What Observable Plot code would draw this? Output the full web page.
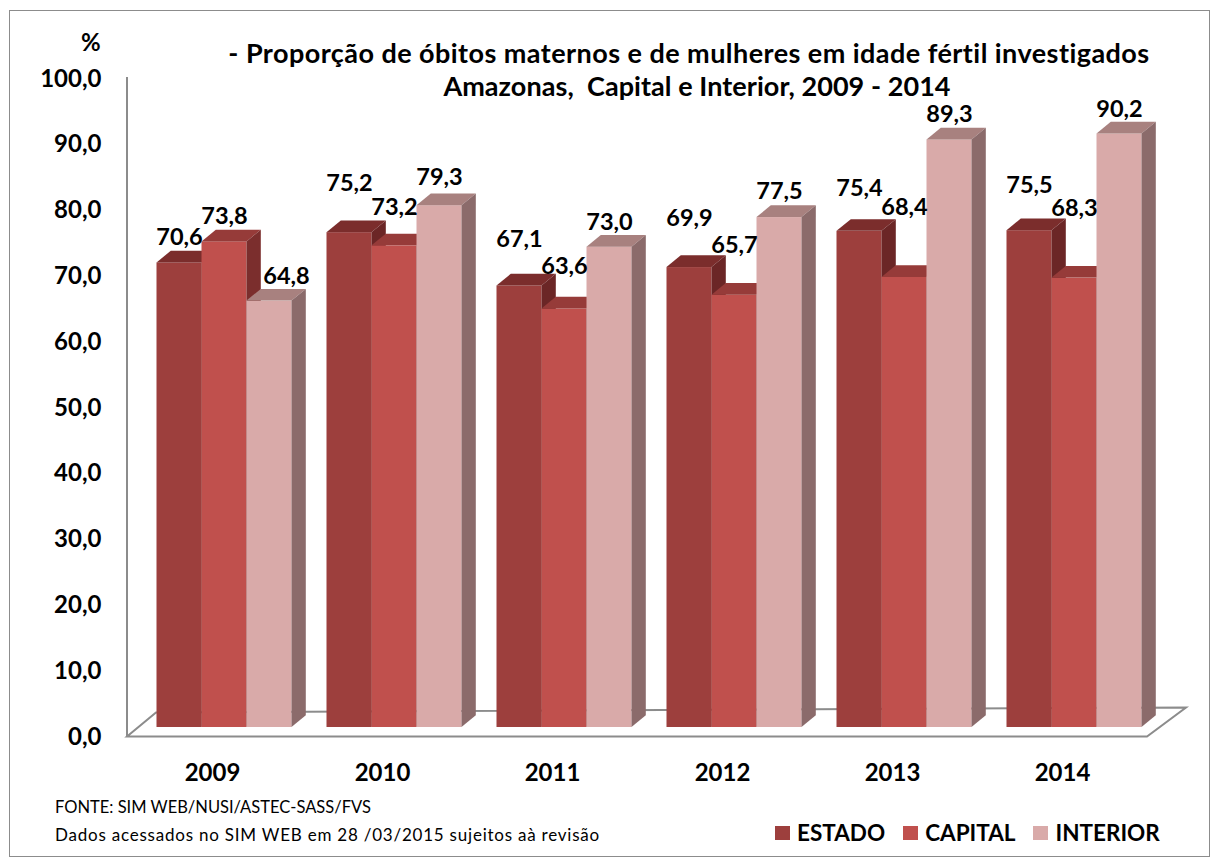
<!DOCTYPE html>
<html>
<head>
<meta charset="utf-8">
<script src="https://cdn.jsdelivr.net/npm/d3@7"></script>
<script src="https://cdn.jsdelivr.net/npm/@observablehq/plot@0.6"></script>
<style>
  html, body { margin: 0; padding: 0; background: #fff; overflow: hidden; }
  #wrap { position: relative; width: 1218px; height: 865px; overflow: hidden; font-family: Lato, sans-serif; }
  #wrap svg { position: absolute; left: 0; top: 0; }
  #frame { position: absolute; left: 9px; top: 10px; width: 1201px; height: 847px; border: 1.5px solid #8c8c8c; box-sizing: border-box; pointer-events: none; }
  .t { position: absolute; white-space: pre; color: #000; line-height: 1; }
  .title { font-weight: bold; font-size: 27px; transform: translateX(-50%); }
  #legend { position: absolute; left: 775px; top: 822px; display: flex; align-items: center; font-weight: bold; font-size: 22.5px; line-height: 1; }
  #legend .item { display: flex; align-items: center; margin-right: 18px; }
  #legend .sw { width: 15px; height: 14px; margin-right: 7px; }
</style>
</head>
<body>
<div id="wrap">
  <div class="t title" id="t1" style="left:689px; top:39px;"></div>
  <div class="t title" id="t2" style="left:697px; top:72px;"></div>
  <div class="t" id="pct" style="left:81px; top:30px; font-weight:bold; font-size:24px;">%</div>
  <div class="t" id="f1" style="left:55px; top:799px; font-size:16.5px;"></div>
  <div class="t" id="f2" style="left:55px; top:826px; font-size:17px;"></div>
  <div id="legend"></div>
  <div id="frame"></div>
</div>
<script>
// ---- data ----
const years = ["2009", "2010", "2011", "2012", "2013", "2014"];
const series = ["ESTADO", "CAPITAL", "INTERIOR"];
const estado   = [70.6, 75.2, 67.1, 69.9, 75.4, 75.5];
const capital  = [73.8, 73.2, 63.6, 65.7, 68.4, 68.3];
const interior = [64.8, 79.3, 73.0, 77.5, 89.3, 90.2];
const yTicks = [0, 10, 20, 30, 40, 50, 60, 70, 80, 90, 100];

const titleLine1 = "- Proporção de óbitos maternos e de mulheres em idade fértil investigados";
const titleLine2 = "Amazonas,  Capital e Interior, 2009 - 2014";
const source1 = "FONTE: SIM WEB/NUSI/ASTEC-SASS/FVS";
const source2 = "Dados acessados no SIM WEB em 28 /03/2015 sujeitos aà revisão";

// ---- styles ----
const frontColors = ["#9D3F3D", "#C0504D", "#D9AAA9"];
const topColors   = ["#7B2D2C", "#963B39", "#A8817F"];
const sideColors  = ["#6B2626", "#7B2E2D", "#8B6B6B"];
// manual label nudges of the original (px, upward / rightward)
const labelLift   = [[0, 0, 0], [24, 13, 3], [22, 18, 0], [24, 25, 1], [18, 45, 0], [20, 45, 0]];
const labelShiftX = [[0, 0, 17], [0, 0, 0], [0, 0, 0], [0, 0, 0], [0, 0, 0], [0, 0, 0]];
const DX = 14.3, DY = 11.7; // oblique depth of the 3D bars

const valuesBySeries = [estado, capital, interior];
const rows = years.flatMap((year, i) =>
  series.map((s, j) => ({year, series: s, value: valuesBySeries[j][i], yi: i, sj: j}))
);

const fmt = v => v.toFixed(1).replace(".", ",");

const plot = Plot.plot({
  width: 1218,
  height: 865,
  marginTop: 69,
  marginBottom: 138,
  marginLeft: 153.5,
  marginRight: 74,
  style: {fontFamily: "Lato, sans-serif", fontSize: "24px", fontWeight: "bold", color: "#000", background: "transparent"},
  fx: {domain: years, paddingInner: 0.2, paddingOuter: 0, label: null},
  x: {domain: series, padding: 0, axis: null},
  y: {domain: [0, 100], label: null},
  color: {domain: series, range: frontColors},
  marks: [
    Plot.axisY({ticks: yTicks, tickFormat: fmt, tickSize: 0, tickPadding: 55, dy: 9.5, label: null, fontSize: 24, fontWeight: "bold"}),
    Plot.axisFx({anchor: "bottom", tickSize: 0, tickPadding: 36, dx: -12, label: null, fontSize: 24, fontWeight: "bold"}),
    Plot.barY(rows, {fx: "year", x: "series", y: "value", fill: "series"}),
    Plot.text(rows, {fx: "year", x: "series", y: "value", text: d => fmt(d.value), dy: -25, fontSize: 23.5, fontWeight: "bold", fill: "#000"})
  ]
});

document.getElementById("wrap").prepend(plot);

// ---- 3D faces on the bars ----
const ns = "http://www.w3.org/2000/svg";
plot.querySelectorAll('g[aria-label="bar"] rect').forEach(r => {
  const fill = (r.getAttribute("fill") || "").toUpperCase();
  const j = frontColors.findIndex(c => c.toUpperCase() === fill);
  if (j < 0) return;
  const x = +r.getAttribute("x"), y = +r.getAttribute("y");
  const w = +r.getAttribute("width"), h = +r.getAttribute("height");
  const top = document.createElementNS(ns, "path");
  top.setAttribute("d", `M${x},${y}L${x + w},${y}L${x + w + DX},${y - DY}L${x + DX},${y - DY}Z`);
  top.setAttribute("fill", topColors[j]);
  const side = document.createElementNS(ns, "path");
  side.setAttribute("d", `M${x + w},${y}L${x + w + DX},${y - DY}L${x + w + DX},${y + h - DY}L${x + w},${y + h}Z`);
  side.setAttribute("fill", sideColors[j]);
  r.after(top, side);
});

// ---- label nudges ----
plot.querySelectorAll('g[aria-label="text"] text').forEach((t, k) => {
  const d = rows[k];
  if (!d) return;
  const lx = labelShiftX[d.yi][d.sj], ly = labelLift[d.yi][d.sj];
  const prev = t.getAttribute("transform") || "";
  t.setAttribute("transform", `translate(${lx},${-ly}) ${prev}`);
});

// ---- floor and vertical axis line (drawn behind the bars) ----
const ys = plot.scale("y"), fxs = plot.scale("fx");
const y0 = ys.apply(0), y100 = ys.apply(100);
const xL = fxs.apply(years[0]);
const xR = fxs.apply(years[years.length - 1]) + fxs.bandwidth;
const fl = [xL - 29, y0 + 9.5], fr = [xR + 5, y0 + 9.5];
const bl = [fl[0] + 29, fl[1] - 24], br = [fr[0] + 39, fr[1] - 29];
const back = d3.select(plot).insert("g", ":first-child").attr("fill", "none").attr("stroke", "#8c8c8c").attr("stroke-width", 2);
back.append("path").attr("d", `M${fl}L${fr}L${br}L${bl}Z`).attr("fill", "#fff");
back.append("line").attr("x1", fl[0]).attr("x2", fl[0]).attr("y1", y100 + 8).attr("y2", fl[1]);

// ---- texts ----
function fit(el, target) {
  const n = el.textContent.length;
  const w = el.getBoundingClientRect().width;
  el.style.letterSpacing = ((target - w) / n).toFixed(2) + "px";
}
const t1 = document.getElementById("t1"), t2 = document.getElementById("t2");
const f1 = document.getElementById("f1"), f2 = document.getElementById("f2");
t1.textContent = titleLine1;
t2.textContent = titleLine2;
f1.textContent = source1;
f2.textContent = source2;
fit(t1, 922); fit(t2, 507); fit(f2, 545);
const legend = document.getElementById("legend");
series.forEach((s, j) => {
  const item = document.createElement("div");
  item.className = "item";
  const sw = document.createElement("div");
  sw.className = "sw";
  sw.style.background = frontColors[j];
  const lab = document.createElement("span");
  lab.textContent = s;
  item.append(sw, lab);
  legend.append(item);
});
</script>
</body>
</html>
